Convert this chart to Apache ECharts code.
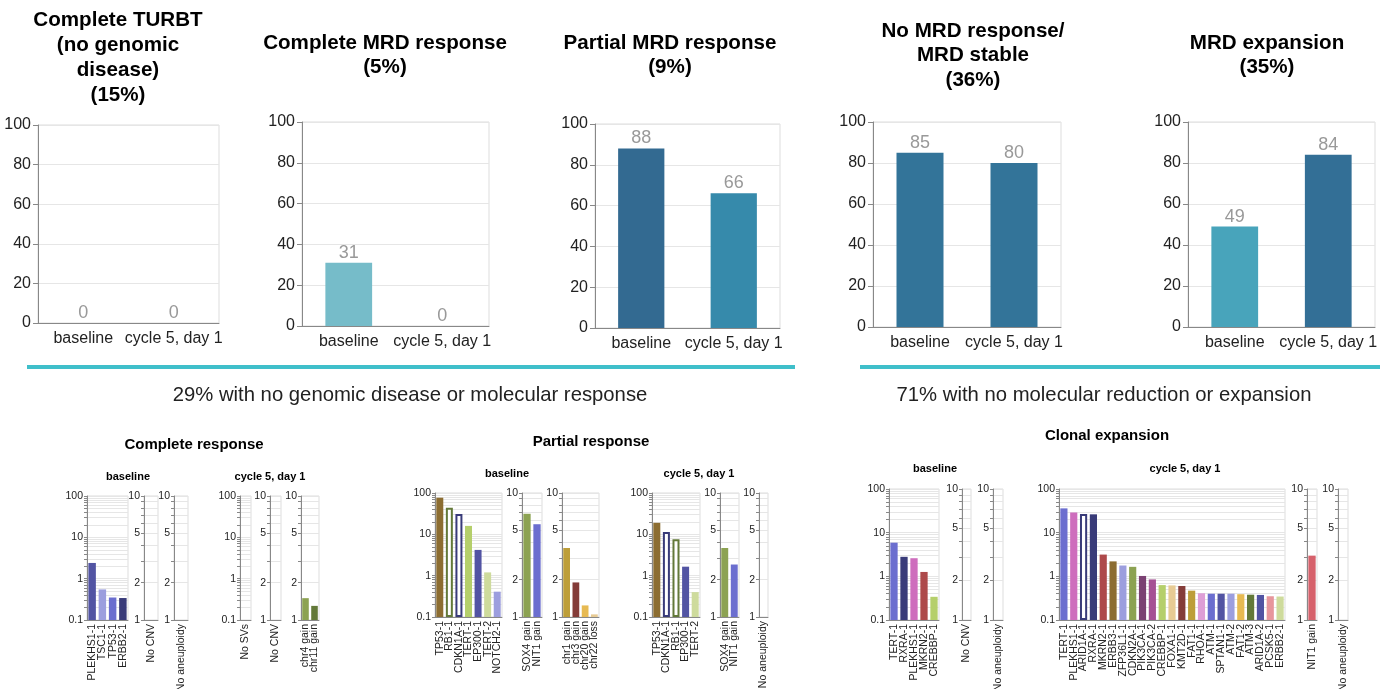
<!DOCTYPE html>
<html>
<head>
<meta charset="utf-8">
<script src="https://cdn.jsdelivr.net/npm/echarts@6/dist/echarts.min.js"></script>
<style>
  html, body { margin: 0; padding: 0; background: #fff; }
  #chart { width: 1380px; height: 689px; }
</style>
</head>
<body>
<div id="chart"></div>
<script>
// ---------- MRD fraction per response group (%) ----------
const stageLabels = ['baseline', 'cycle 5, day 1'];
const turbtPct = [0, 0];
const completeMrdPct = [31, 0];
const partialMrdPct = [88, 66];
const stableMrdPct = [85, 80];
const expansionMrdPct = [49, 84];

// ---------- Complete response: variant allele fractions / copy levels ----------
const crBaseSnvNames = ['PLEKHS1-1', 'TSC1-1', 'TP53-1', 'ERBB2-1'];
const crBaseSnvVals = [2.4, 0.55, 0.35, 0.34];
const crBaseCnvNames = ['No CNV'];
const crBaseCnvVals = [null];
const crBaseAneuNames = ['No aneuploidy'];
const crBaseAneuVals = [null];
const crC5SvNames = ['No SVs'];
const crC5SvVals = [null];
const crC5CnvNames = ['No CNV'];
const crC5CnvVals = [null];
const crC5AneuNames = ['chr4 gain', 'chr11 gain'];
const crC5AneuVals = [1.5, 1.3];

// ---------- Partial response ----------
const prBaseSnvNames = ['TP53-1', 'RB1-1', 'CDKN1A-1', 'TERT-1', 'EP300-1', 'TERT-2', 'NOTCH2-1'];
const prBaseSnvVals = [77, 44, 31, 16, 4.2, 1.2, 0.41];
const prBaseCnvNames = ['SOX4 gain', 'NIT1 gain'];
const prBaseCnvVals = [6.8, 5.6];
const prBaseAneuNames = ['chr1 gain', 'chr3 gain', 'chr20 gain', 'chr22 loss'];
const prBaseAneuVals = [3.6, 1.9, 1.24, 1.05];
const prC5SnvNames = ['TP53-1', 'CDKN1A-1', 'RB1-1', 'EP300-1', 'TERT-2'];
const prC5SnvVals = [19, 11.4, 7.6, 1.65, 0.4];
const prC5CnvNames = ['SOX4 gain', 'NIT1 gain'];
const prC5CnvVals = [3.6, 2.65];
const prC5AneuNames = ['No aneuploidy'];
const prC5AneuVals = [null];

// ---------- Clonal expansion ----------
const ceBaseSnvNames = ['TERT-1', 'RXRA-1', 'PLEKHS1-1', 'MKRN2-1', 'CREBBP-1'];
const ceBaseSnvVals = [5.9, 2.8, 2.6, 1.26, 0.34];
const ceBaseCnvNames = ['No CNV'];
const ceBaseCnvVals = [null];
const ceBaseAneuNames = ['No aneuploidy'];
const ceBaseAneuVals = [null];
const ceC5SnvNames = ['TERT-1', 'PLEKHS1-1', 'ARID1A-1', 'RXRA-1', 'MKRN2-1', 'ERBB3-1', 'ZFP36L1-1',
  'CDKN2A-1', 'PIK3CA-1', 'PIK3CA-2', 'CREBBP-1', 'FOXA1-1', 'KMT2D-1', 'FAT1-1', 'RHOA-1', 'ATM-1',
  'SPTAN1-1', 'ATM-2', 'FAT1-2', 'ATM-3', 'ARID1A-2', 'PCSK5-1', 'ERBB2-1'];
const ceC5SnvVals = [36, 29, 26.7, 26.3, 3.15, 2.2, 1.77, 1.65, 1.02, 0.85, 0.63, 0.62, 0.6, 0.47,
  0.41, 0.4, 0.4, 0.4, 0.39, 0.38, 0.375, 0.35, 0.345];
const ceC5CnvNames = ['NIT1 gain'];
const ceC5CnvVals = [3.1];
const ceC5AneuNames = ['No aneuploidy'];
const ceC5AneuVals = [null];

// ---------- styling ----------
const FONT = "'Liberation Sans', Arial, Helvetica, sans-serif";
const AXIS_GREY = '#888888';
const GRID_GREY = '#e6e6e6';
const FRAME_GREY = '#dddddd';

const topColors = {
  completeMrd: ['#76bcc9', '#76bcc9'],
  partialMrd: ['#336a91', '#368aab'],
  stableMrd: ['#337499', '#337499'],
  expansionMrd: ['#48a4bb', '#336f96']
};

const barColors = {
  crBaseSnv: ['#5254a3', '#9c9ede', '#6b6ecf', '#393b79'],
  crC5Aneu: ['#8ca252', '#637939'],
  prBaseSnv: ['#8c6d31', '#637939', '#393b79', '#b5cf6b', '#5254a3', '#cedb9c', '#9c9ede'],
  prBaseCnv: ['#8ca252', '#6b6ecf'],
  prBaseAneu: ['#bd9e39', '#843c39', '#e7ba52', '#e7cb94'],
  prC5Snv: ['#8c6d31', '#393b79', '#637939', '#5254a3', '#cedb9c'],
  prC5Cnv: ['#8ca252', '#6b6ecf'],
  ceBaseSnv: ['#6b6ecf', '#393b79', '#ce6dbd', '#ad494a', '#b5cf6b'],
  ceC5Snv: ['#6b6ecf', '#ce6dbd', '#393b79', '#393b79', '#ad494a', '#8c6d31', '#9c9ede', '#8ca252',
    '#7b4173', '#a55194', '#b5cf6b', '#e7cb94', '#843c39', '#bd9e39', '#de9ed6', '#6b6ecf', '#5254a3',
    '#9c9ede', '#e7ba52', '#637939', '#5254a3', '#e7969c', '#cedb9c'],
  ceC5Cnv: ['#d6616b']
};

// variants drawn as outlined (subclonal loss) bars
const outlined = {
  prBaseSnv: ['RB1-1', 'CDKN1A-1'],
  prC5Snv: ['CDKN1A-1', 'RB1-1'],
  ceC5Snv: ['ARID1A-1']
};

const option = {
  animation: false,
  backgroundColor: '#ffffff',
  textStyle: { fontFamily: FONT },
  grid: [], xAxis: [], yAxis: [], series: [], graphic: []
};

function addGrid(rect) {
  option.grid.push({
    left: rect[0], top: rect[1], width: rect[2], height: rect[3],
    show: true, borderColor: FRAME_GREY, borderWidth: 1,
    containLabel: false, outerBoundsMode: 'none'
  });
  return option.grid.length - 1;
}

// percentage bar panel (top row)
function addTopPanel(rect, values, colors) {
  const i = addGrid(rect);
  option.xAxis.push({
    gridIndex: i, type: 'category', data: stageLabels,
    axisLine: { lineStyle: { color: AXIS_GREY } },
    axisTick: { alignWithLabel: true, length: 5, lineStyle: { color: AXIS_GREY } },
    axisLabel: { interval: 0, fontSize: 16, color: '#222', margin: 8, fontFamily: FONT }
  });
  option.yAxis.push({
    gridIndex: i, type: 'value', min: 0, max: 100, interval: 20,
    axisLine: { show: true, lineStyle: { color: AXIS_GREY } },
    axisTick: { show: true, length: 5, lineStyle: { color: AXIS_GREY } },
    axisLabel: { fontSize: 16, color: '#222', margin: 7, fontFamily: FONT },
    splitLine: { show: true, lineStyle: { color: GRID_GREY } }
  });
  option.series.push({
    type: 'bar', xAxisIndex: i, yAxisIndex: i, barWidth: '50%',
    data: values.map((v, k) => ({ value: v, itemStyle: { color: colors ? colors[k] : '#76bcc9' } })),
    label: { show: true, position: 'top', distance: 1, fontSize: 18, color: '#999', fontFamily: FONT }
  });
}

function range(lo, hi) {
  const out = [];
  for (let d = lo; d < hi; d *= 10) {
    for (let m = 1; m < 10; m++) out.push(+(m * d).toPrecision(3));
  }
  out.push(hi);
  return out;
}

// log-scale bar panel (bottom row); kind 'snv' spans 0.1-100, 'cnv' spans 1-10
function addLogPanel(rect, names, values, colors, hollow, kind) {
  const i = addGrid(rect);
  const snv = kind === 'snv';
  const lo = snv ? 0.1 : 1;
  const hi = snv ? 100 : 10;
  option.xAxis.push({
    gridIndex: i, type: 'category', data: names,
    axisLine: { lineStyle: { color: AXIS_GREY } },
    axisTick: { alignWithLabel: true, length: 3, lineStyle: { color: AXIS_GREY } },
    axisLabel: { interval: 0, rotate: 90, fontSize: 10.5, color: '#222', margin: 4, fontFamily: FONT }
  });
  option.yAxis.push({
    gridIndex: i, type: 'log', logBase: 10, min: lo, max: hi, startValue: lo,
    axisLine: { show: true, lineStyle: { color: AXIS_GREY } },
    axisTick: { show: true, length: 3, customValues: range(lo, hi), lineStyle: { color: AXIS_GREY } },
    axisLabel: {
      customValues: snv ? [0.1, 1, 10, 100] : [1, 2, 5, 10],
      formatter: v => (v < 1 ? (+v).toFixed(1) : String(Math.round(v))),
      fontSize: 10.5, color: '#222', margin: 4, fontFamily: FONT
    },
    splitLine: { show: true, lineStyle: { color: GRID_GREY } }
  });
  option.series.push({
    type: 'bar', xAxisIndex: i, yAxisIndex: i, barCategoryGap: '27%',
    data: values.map((v, k) => {
      if (v == null) return null;
      const c = colors ? colors[k] : '#999';
      const isHollow = hollow && hollow.indexOf(names[k]) >= 0;
      return {
        value: v,
        itemStyle: isHollow ? { color: '#ffffff', borderColor: c, borderWidth: 2 } : { color: c }
      };
    })
  });
}

function addText(x, y, text, font, color) {
  option.graphic.push({
    type: 'text', silent: true,
    style: { text: text, x: x, y: y, align: 'center', verticalAlign: 'middle', font: font, fill: color || '#000' }
  });
}

function addTitle(x, y0, lh, lines) {
  lines.forEach((t, k) => addText(x, y0 + k * lh, t, "bold 20.6px " + FONT, '#000'));
}

// ---------- top row ----------
addTopPanel([38, 125, 181, 198], turbtPct, null);
addTopPanel([302, 122, 187, 204], completeMrdPct, topColors.completeMrd);
addTopPanel([595, 124, 185, 204], partialMrdPct, topColors.partialMrd);
addTopPanel([873, 122, 188, 205], stableMrdPct, topColors.stableMrd);
addTopPanel([1188, 122, 187, 205], expansionMrdPct, topColors.expansionMrd);

addTitle(118, 20, 25, ['Complete TURBT', '(no genomic', 'disease)', '(15%)']);
addTitle(385, 43, 24, ['Complete MRD response', '(5%)']);
addTitle(670, 43, 24, ['Partial MRD response', '(9%)']);
addTitle(973, 31, 24.5, ['No MRD response/', 'MRD stable', '(36%)']);
addTitle(1267, 43, 24, ['MRD expansion', '(35%)']);

// separators and group captions
option.graphic.push({ type: 'line', silent: true, shape: { x1: 27, y1: 367, x2: 795, y2: 367 },
  style: { stroke: '#3fbfca', lineWidth: 4 } });
option.graphic.push({ type: 'line', silent: true, shape: { x1: 860, y1: 367, x2: 1380, y2: 367 },
  style: { stroke: '#3fbfca', lineWidth: 4 } });
addText(410, 395, '29% with no genomic disease or molecular response', "20.3px " + FONT, '#222');
addText(1104, 395, '71% with no molecular reduction or expansion', "20.3px " + FONT, '#222');

// ---------- bottom row ----------
addText(194, 445, 'Complete response', "bold 15px " + FONT);
addText(128, 477, 'baseline', "bold 11px " + FONT);
addText(270, 477, 'cycle 5, day 1', "bold 11px " + FONT);
addLogPanel([87, 496, 41, 124], crBaseSnvNames, crBaseSnvVals, barColors.crBaseSnv, null, 'snv');
addLogPanel([144, 496, 14, 124], crBaseCnvNames, crBaseCnvVals, null, null, 'cnv');
addLogPanel([174, 496, 14, 124], crBaseAneuNames, crBaseAneuVals, null, null, 'cnv');
addLogPanel([240, 496, 11, 124], crC5SvNames, crC5SvVals, null, null, 'snv');
addLogPanel([270, 496, 11, 124], crC5CnvNames, crC5CnvVals, null, null, 'cnv');
addLogPanel([301, 496, 18, 124], crC5AneuNames, crC5AneuVals, barColors.crC5Aneu, null, 'cnv');

addText(591, 442, 'Partial response', "bold 15px " + FONT);
addText(507, 474, 'baseline', "bold 11px " + FONT);
addText(699, 474, 'cycle 5, day 1', "bold 11px " + FONT);
addLogPanel([435, 493, 67, 124], prBaseSnvNames, prBaseSnvVals, barColors.prBaseSnv, outlined.prBaseSnv, 'snv');
addLogPanel([522, 493, 20, 124], prBaseCnvNames, prBaseCnvVals, barColors.prBaseCnv, null, 'cnv');
addLogPanel([562, 493, 37, 124], prBaseAneuNames, prBaseAneuVals, barColors.prBaseAneu, null, 'cnv');
addLogPanel([652, 493, 48, 124], prC5SnvNames, prC5SnvVals, barColors.prC5Snv, outlined.prC5Snv, 'snv');
addLogPanel([720, 493, 19, 124], prC5CnvNames, prC5CnvVals, barColors.prC5Cnv, null, 'cnv');
addLogPanel([759, 493, 9, 124], prC5AneuNames, prC5AneuVals, null, null, 'cnv');

addText(1107, 436, 'Clonal expansion', "bold 15px " + FONT);
addText(935, 469, 'baseline', "bold 11px " + FONT);
addText(1185, 469, 'cycle 5, day 1', "bold 11px " + FONT);
addLogPanel([889, 489, 50, 131], ceBaseSnvNames, ceBaseSnvVals, barColors.ceBaseSnv, null, 'snv');
addLogPanel([962, 489, 9, 131], ceBaseCnvNames, ceBaseCnvVals, null, null, 'cnv');
addLogPanel([993, 489, 10, 131], ceBaseAneuNames, ceBaseAneuVals, null, null, 'cnv');
addLogPanel([1059, 489, 226, 131], ceC5SnvNames, ceC5SnvVals, barColors.ceC5Snv, outlined.ceC5Snv, 'snv');
addLogPanel([1307, 489, 10, 131], ceC5CnvNames, ceC5CnvVals, barColors.ceC5Cnv, null, 'cnv');
addLogPanel([1338, 489, 10, 131], ceC5AneuNames, ceC5AneuVals, null, null, 'cnv');

const chart = echarts.init(document.getElementById('chart'), null, { renderer: 'canvas' });
chart.setOption(option);
</script>
</body>
</html>
